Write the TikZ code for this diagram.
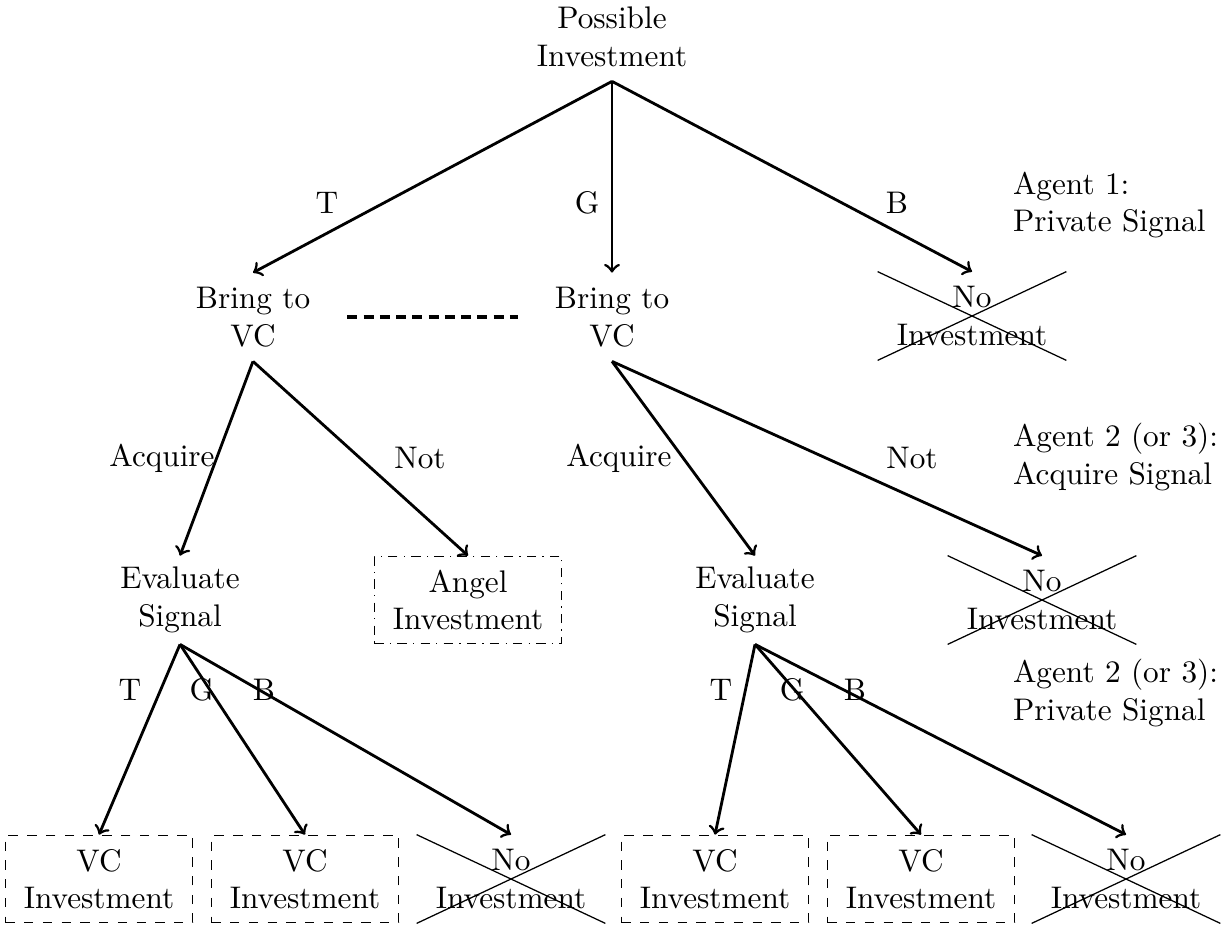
\documentclass[tikz,border=0pt]{standalone}
\usetikzlibrary{shapes.misc}
\begin{document}
\begin{tikzpicture}[x=0.32pt,y=-0.32pt,
  every node/.style={align=center, inner sep=3.33pt},
  state/.style={minimum width=60pt, minimum height=28pt},
  vcbox/.style={state, draw, dashed, line width=0.4pt},
  angelbox/.style={state, draw, dash dot, line width=0.4pt},
  noinv/.style={state, cross out, draw, line width=0.4pt},
  arr/.style={->, line width=0.9pt},
  lab/.style={inner sep=1pt},
  agent/.style={anchor=west, align=left}]
\useasboundingbox (0,0) rectangle (1225,926);
% nodes
\node[state] (root) at (612,37) {Possible\\Investment};
\node[state] (b1) at (253,317) {Bring to\\VC};
\node[state] (b2) at (612,317) {Bring to\\VC};
\node[noinv] (n1) at (972,316) {No\\Investment};
\node[state] (e1) at (180,600) {Evaluate\\Signal};
\node[angelbox] (a1) at (468,600) {Angel\\Investment};
\node[state] (e2) at (755,600) {Evaluate\\Signal};
\node[noinv] (n2) at (1042,600) {No\\Investment};
\node[vcbox] (v1) at (99,879) {VC\\Investment};
\node[vcbox] (v2) at (305,879) {VC\\Investment};
\node[noinv] (n3) at (511,879) {No\\Investment};
\node[vcbox] (v3) at (715,879) {VC\\Investment};
\node[vcbox] (v4) at (921,879) {VC\\Investment};
\node[noinv] (n4) at (1126,879) {No\\Investment};
% agent labels
\node[agent] (ag1) at (1002,205) {Agent 1:\\Private Signal};
\node[agent] (ag2) at (1002,457) {Agent 2 (or 3):\\Acquire Signal};
\node[agent] (ag3) at (1002,693) {Agent 2 (or 3):\\Private Signal};
% edges
\draw[arr] (root.south) -- (b1.north);
\draw[arr] (root.south) -- (b2.north);
\draw[arr] (root.south) -- (n1.north);
\draw[line width=1pt, dash pattern=on 3.2pt off 2pt] (b1.east) -- (b2.west);
\draw[arr] (b1.south) -- (e1.north);
\draw[arr] (b1.south) -- (a1.north);
\draw[arr] (b2.south) -- (e2.north);
\draw[arr] (b2.south) -- (n2.north);
\draw[arr] (e1.south) -- (v1.north);
\draw[arr] (e1.south) -- (v2.north);
\draw[arr] (e1.south) -- (n3.north);
\draw[arr] (e2.south) -- (v3.north);
\draw[arr] (e2.south) -- (v4.north);
\draw[arr] (e2.south) -- (n4.north);
% edge labels
\node[lab] (l1) at (327,203) {T};
\node[lab] (l2) at (587,203) {G};
\node[lab] (l3) at (897,203) {B};
\node[lab] (l4) at (162,458) {Acquire};
\node[lab] (l5) at (420,458) {Not};
\node[lab] (l6) at (619,458) {Acquire};
\node[lab] (l7) at (912,458) {Not};
\node[lab] (l8) at (130,690) {T};
\node[lab] (l9) at (202,690) {G};
\node[lab] (l10) at (264,690) {B};
\node[lab] (l11) at (721,690) {T};
\node[lab] (l12) at (792,690) {G};
\node[lab] (l13) at (855,690) {B};
\end{tikzpicture}
\end{document}
